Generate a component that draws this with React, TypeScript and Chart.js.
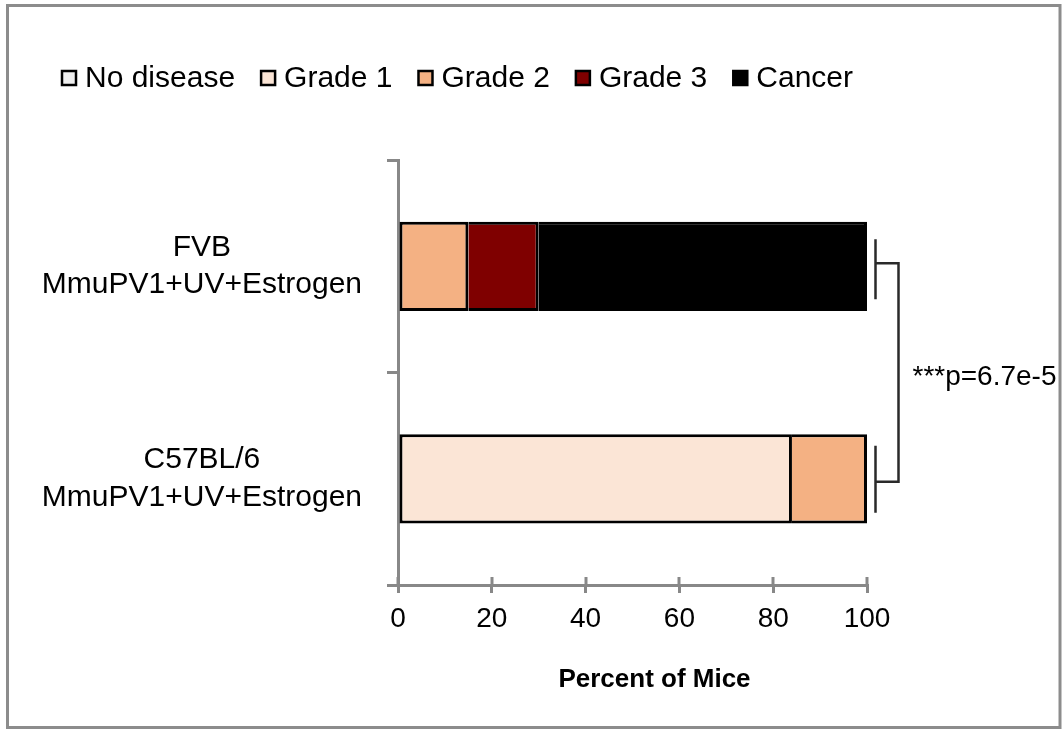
import React, { useEffect, useRef } from "react";
import { Chart, registerables } from "chart.js";

Chart.register(...registerables);

// ---- data ----
const categories: string[][] = [
  ["FVB", "MmuPV1+UV+Estrogen"],
  ["C57BL/6", "MmuPV1+UV+Estrogen"],
];
const seriesNames = ["No disease", "Grade 1", "Grade 2", "Grade 3", "Cancer"];
const noDisease = [0, 0];
const grade1 = [0, 84];
const grade2 = [15, 16];
const grade3 = [15, 0];
const cancer = [70, 0];
const seriesColors = ["#EFEFEF", "#FBE5D6", "#F4B183", "#7F0000", "#000000"];
const xTickStep = 20;
const xMin = 0;
const xMax = 100;
const xTitle = "Percent of Mice";
const pValueLabel = "***p=6.7e-5";

const seriesValues = [noDisease, grade1, grade2, grade3, cancer];

const FONT = "'Liberation Sans', Arial, Helvetica, sans-serif";
const AXIS_GRAY = "#888888";

export default function App() {
  const ref = useRef<HTMLCanvasElement | null>(null);

  useEffect(() => {
    if (!ref.current) return;
    Chart.defaults.font.family = FONT;

    const frame = {
      id: "frame",
      beforeDraw(chart: any) {
        const ctx = chart.ctx;
        ctx.save();
        ctx.fillStyle = "#ffffff";
        ctx.fillRect(0, 0, chart.width, chart.height);
        ctx.strokeStyle = "#8c8c8c";
        ctx.lineWidth = 3;
        ctx.strokeRect(7.5, 5.5, chart.width - 9.5, chart.height - 8);
        ctx.restore();
      },
    };

    const legendPlugin = {
      id: "customLegend",
      afterDraw(chart: any) {
        const ctx = chart.ctx;
        ctx.save();
        ctx.font = `30px ${FONT}`;
        ctx.textBaseline = "middle";
        ctx.textAlign = "left";
        let x = 62;
        const yc = 78;
        seriesNames.forEach((name, i) => {
          const bs = 14;
          ctx.fillStyle = seriesColors[i];
          ctx.fillRect(x, yc - bs / 2, bs, bs);
          ctx.strokeStyle = "#000";
          ctx.lineWidth = 2.5;
          ctx.strokeRect(x, yc - bs / 2, bs, bs);
          ctx.fillStyle = "#000";
          const tx = x + 23;
          ctx.fillText(name, tx, yc + 1);
          x = tx + ctx.measureText(name).width + 26;
        });
        ctx.restore();
      },
    };

    const innerTicks = {
      id: "innerTicks",
      afterDraw(chart: any) {
        const xs = chart.scales.x;
        const ctx = chart.ctx;
        const bottom = chart.chartArea.bottom;
        ctx.save();
        ctx.strokeStyle = AXIS_GRAY;
        ctx.lineWidth = 3;
        xs.ticks.forEach((t: any) => {
          const px = Math.round(xs.getPixelForValue(t.value));
          ctx.beginPath();
          ctx.moveTo(px, bottom);
          ctx.lineTo(px, bottom - 8);
          ctx.stroke();
        });
        ctx.restore();
      },
    };

    const axisTitle = {
      id: "axisTitle",
      afterDraw(chart: any) {
        const xs = chart.scales.x;
        const ctx = chart.ctx;
        ctx.save();
        ctx.fillStyle = "#000";
        ctx.font = `bold 26px ${FONT}`;
        ctx.textAlign = "center";
        ctx.textBaseline = "middle";
        const cx = (xs.left + xs.right) / 2 + 22;
        ctx.fillText(xTitle, cx, chart.chartArea.bottom + 95);
        ctx.restore();
      },
    };

    const bracket = {
      id: "bracket",
      afterDraw(chart: any) {
        const xs = chart.scales.x;
        const ys = chart.scales.y;
        const ctx = chart.ctx;
        const x0 = xs.getPixelForValue(xMax) + 8.5;
        const x1 = x0 + 23;
        const y0 = ys.getPixelForValue(0);
        const y1 = ys.getPixelForValue(1);
        ctx.save();
        ctx.strokeStyle = "#2a2a2a";
        ctx.lineWidth = 2.5;
        ctx.beginPath();
        ctx.moveTo(x0, y0 - 27);
        ctx.lineTo(x0, y0 + 33);
        ctx.moveTo(x0, y1 - 33);
        ctx.lineTo(x0, y1 + 34);
        ctx.moveTo(x0, y0 - 3);
        ctx.lineTo(x1, y0 - 3);
        ctx.lineTo(x1, y1 + 3);
        ctx.lineTo(x0, y1 + 3);
        ctx.stroke();
        ctx.fillStyle = "#000";
        ctx.font = `28px ${FONT}`;
        ctx.textBaseline = "middle";
        ctx.textAlign = "left";
        ctx.fillText(pValueLabel, x1 + 14, (y0 + y1) / 2 + 5);
        ctx.restore();
      },
    };

    const startOf = (dsIndex: number, dataIndex: number) => {
      let s = 0;
      for (let k = 0; k < dsIndex; k++) s += seriesValues[k][dataIndex];
      return s;
    };

    const chart = new Chart(ref.current, {
      type: "bar",
      data: {
        labels: categories as any,
        datasets: seriesNames.map((name, i) => ({
          label: name,
          data: seriesValues[i],
          backgroundColor: seriesColors[i],
          borderColor: "#000000",
          borderSkipped: false,
          borderWidth: (c: any) => ({
            top: 3,
            bottom: 3,
            right: 3,
            left: startOf(c.datasetIndex, c.dataIndex) === 0 ? 3 : 0,
          }),
          categoryPercentage: 1,
          barPercentage: 0.42,
        })) as any,
      },
      options: {
        indexAxis: "y",
        responsive: false,
        animation: false,
        layout: { padding: { left: 0, right: 195, top: 160, bottom: 0 } },
        plugins: {
          legend: { display: false },
          tooltip: { enabled: false },
        },
        scales: {
          x: {
            type: "linear",
            stacked: true,
            min: xMin,
            max: xMax,
            ticks: {
              stepSize: xTickStep,
              color: "#000",
              font: { size: 28 },
              padding: 9,
            },
            grid: {
              drawOnChartArea: false,
              drawTicks: true,
              tickLength: 8,
              color: AXIS_GRAY,
              lineWidth: 3,
            },
            border: { color: AXIS_GRAY, width: 3 },
            afterFit: (s: any) => {
              s.height = 145;
            },
          },
          y: {
            type: "category",
            stacked: true,
            offset: true,
            grid: {
              offset: true,
              drawOnChartArea: false,
              drawTicks: true,
              tickLength: 11,
              color: AXIS_GRAY,
              lineWidth: 3,
            },
            border: { color: AXIS_GRAY, width: 3 },
            ticks: {
              crossAlign: "center",
              padding: 25,
              color: "#000",
              font: { size: 30, lineHeight: 1.25 },
            },
            afterFit: (s: any) => {
              s.width = 398;
            },
          },
        },
      } as any,
      plugins: [frame, legendPlugin, innerTicks, axisTitle, bracket],
    });

    return () => chart.destroy();
  }, []);

  return (
    <div
      style={{
        position: "fixed",
        left: 0,
        top: 0,
        width: 1062,
        height: 730,
        background: "#fff",
      }}
    >
      <canvas ref={ref} width={1062} height={730} style={{ display: "block" }} />
    </div>
  );
}
